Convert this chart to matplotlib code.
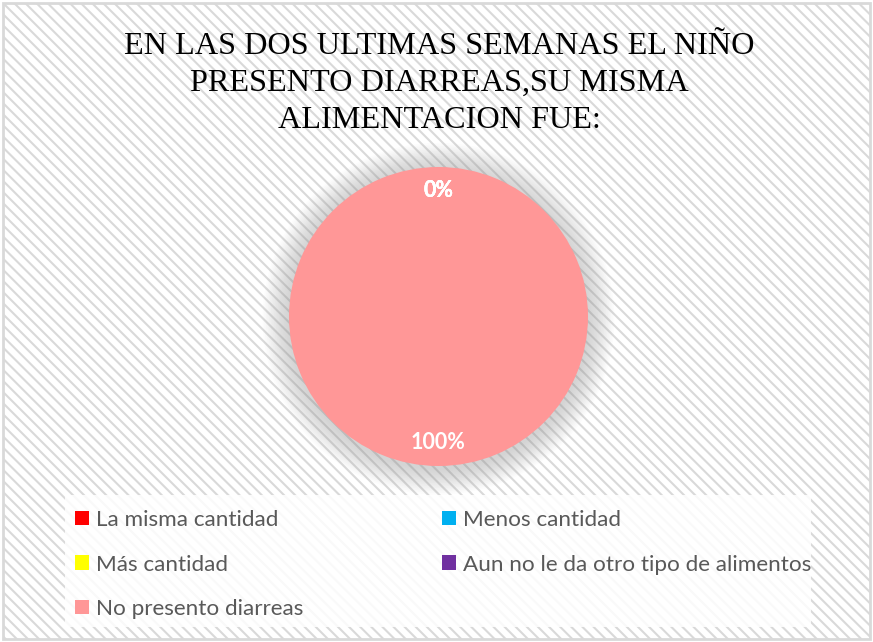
import matplotlib
matplotlib.use("Agg")
import matplotlib.pyplot as plt
from matplotlib.patches import Circle, Rectangle

# data
categorias = ["La misma cantidad", "Menos cantidad", "Más cantidad",
              "Aun no le da otro tipo de alimentos", "No presento diarreas"]
valores = [0, 0, 0, 0, 100]
colores = ["#FF0000", "#00B0F0", "#FFFF00", "#7030A0", "#FF9797"]
titulo = ["EN LAS DOS ULTIMAS SEMANAS EL NIÑO",
          "PRESENTO DIARREAS,SU MISMA",
          "ALIMENTACION FUE:"]

plt.rcParams["hatch.linewidth"] = 1.5
plt.rcParams["hatch.color"] = "#F4F4F4"

fig = plt.figure(figsize=(8.73, 6.42), dpi=100)

# striped background + grey border
bg = Rectangle((0.003, 0.004), 0.994, 0.991, transform=fig.transFigure,
               facecolor="white", edgecolor="#D9D9D9", linewidth=2,
               hatch="\\\\\\", zorder=-10)
fig.patches.append(bg)

# title
ys = [54, 91, 127.5]
for t, y in zip(titulo, ys):
    fig.text(439 / 873, 1 - y / 642, t, ha="center", va="baseline",
             family="Liberation Serif", fontsize=23.2, color="black")

# pie axes
R = 149.5
cx, cy = 438.5, 316.5
half = 1.2 * R
ax = fig.add_axes([(cx - half) / 873, (642 - cy - half) / 642,
                   2 * half / 873, 2 * half / 642])
ax.set_facecolor("none")

# soft shadow around the pie
for i in range(16):
    ax.add_patch(Circle((0, -0.015), 1.0 + 0.011 * (i + 1), color="#A0A0A0",
                        alpha=0.03, linewidth=0, zorder=0))

wedges, _, autotexts = ax.pie(valores, colors=colores, startangle=90,
                              counterclock=False, autopct="%1.0f%%",
                              pctdistance=0.84, radius=1.0,
                              wedgeprops=dict(linewidth=0, zorder=2))
for a in autotexts:
    a.set_color("white")
    a.set_fontweight("bold")
    a.set_fontsize(15.5)
    a.set_family("Lato")
    a.set_zorder(3)
ax.set_xlim(-1.2, 1.2)
ax.set_ylim(-1.2, 1.2)
ax.set_aspect("equal")
ax.axis("off")

# legend box
box = Rectangle((65 / 873, 1 - 627 / 642), 746 / 873, 132 / 642,
                transform=fig.transFigure, facecolor="white", alpha=0.85,
                linewidth=0, zorder=-5)
fig.patches.append(box)

# legend, row-major order like the original
orden = [0, 2, 4, 1, 3]
leg = fig.legend([wedges[i] for i in orden], [categorias[i] for i in orden],
                 ncol=2, loc="upper left", mode="expand",
                 bbox_to_anchor=(75 / 873, 1 - 510 / 642, 736 / 873, 0.0),
                 frameon=False, borderaxespad=0, borderpad=0,
                 handlelength=0.62, handleheight=0.62, handletextpad=0.3,
                 labelspacing=1.09, columnspacing=1.0,
                 prop=dict(family="Lato", size=16.2))
for t in leg.get_texts():
    t.set_color("#595959")

fig.savefig("out.png", dpi=100)
